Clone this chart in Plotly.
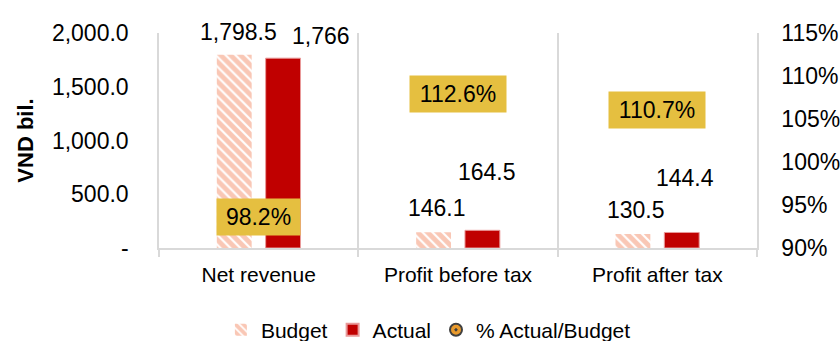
import plotly.graph_objects as go

# Business results: budget vs. actual (VND bil.)
categories = ["Net revenue", "Profit before tax", "Profit after tax"]
budget = [1798.5, 146.1, 130.5]
actual = [1766.0, 164.5, 144.4]
actual_decimals = [0, 1, 1]
pct_actual_budget = [0.982, 1.126, 1.107]

left_tickvals = [0, 500, 1000, 1500, 2000]
left_ticktext = ["-", "500.0", "1,000.0", "1,500.0", "2,000.0"]

FONT = "Liberation Sans, Arial, sans-serif"
RED = "#C00000"
SALMON = "#F4906C"
GOLD = "#E5BF40"
ORANGE = "#E99A2C"
GRID = "#D9D9D9"

# pixel offsets of the value labels (dx, dy) from the top centre of each bar
budget_label_offsets = [(4, 23), (3, 24), (3, 24)]
actual_label_offsets = [(38, 22), (4, 58), (3, 54)]
BAR_SHIFT = 24.5  # half the distance between the two bars of a group

# Arial advance widths (em) for the percentage boxes
CHAR_W = {".": 0.278, "%": 0.889, ",": 0.278}


def text_width(s, size):
    return sum(CHAR_W.get(c, 0.556) for c in s) * size


fig = go.Figure()

fig.add_trace(go.Bar(
    name="Budget", x=categories, y=budget,
    marker=dict(color="white", line=dict(width=0),
                pattern=dict(shape="\\", fgcolor=SALMON, bgcolor="white",
                             size=7, solidity=0.7)),
))
fig.add_trace(go.Bar(
    name="Actual", x=categories, y=actual,
    marker=dict(color=RED, line=dict(color="#E99A9A", width=1)),
))
fig.add_trace(go.Scatter(
    name="% Actual/Budget", x=categories, y=pct_actual_budget, yaxis="y2",
    mode="markers",
    marker=dict(color=ORANGE, size=14, symbol="circle-dot",
                line=dict(color="#404040", width=1)),
    selectedpoints=[], unselected=dict(marker=dict(opacity=0)),
))

annotations = []
for cat, v, (dx, dy) in zip(categories, budget, budget_label_offsets):
    annotations.append(dict(
        x=cat, y=v, xref="x", yref="y", text=f"{v:,.1f}", showarrow=False,
        xanchor="center", yanchor="middle", xshift=-BAR_SHIFT + dx, yshift=dy,
        font=dict(family=FONT, size=23, color="#000000"),
    ))
for cat, v, dec, (dx, dy) in zip(categories, actual, actual_decimals, actual_label_offsets):
    annotations.append(dict(
        x=cat, y=v, xref="x", yref="y", text=f"{v:,.{dec}f}", showarrow=False,
        xanchor="center", yanchor="middle", xshift=BAR_SHIFT + dx, yshift=dy,
        font=dict(family=FONT, size=23, color="#000000"),
    ))
for cat, p in zip(categories, pct_actual_budget):
    label = f"{p * 100:.1f}%"
    annotations.append(dict(
        x=cat, y=p, xref="x", yref="y2", text=label, showarrow=False,
        xanchor="center", yanchor="middle", yshift=-40,
        bgcolor=GOLD, borderpad=5, width=round(text_width(label, 23)) + 8,
        font=dict(family=FONT, size=23, color="#000000"),
    ))

fig.update_layout(
    width=840, height=341,
    margin=dict(l=159, r=83, t=33, b=93, autoexpand=False),
    paper_bgcolor="white", plot_bgcolor="white",
    font=dict(family=FONT, color="#000000"),
    barmode="group", bargap=0.51, bargroupgap=0.286,
    showlegend=True,
    legend=dict(orientation="h", xref="container", yref="container",
                x=0.51, xanchor="center", y=0.032, yanchor="middle",
                font=dict(family=FONT, size=21, color="#000000"),
                itemsizing="constant", traceorder="normal"),
    annotations=annotations,
    xaxis=dict(
        type="category", tickson="boundaries", showgrid=True, gridcolor=GRID,
        gridwidth=1.5, ticks="outside", ticklen=7, tickcolor=GRID, tickwidth=1.5,
        showline=True, linecolor=GRID, linewidth=2, zeroline=False,
        ticklabelstandoff=7, automargin=False,
        tickfont=dict(family=FONT, size=21, color="#000000"),
    ),
    yaxis=dict(
        range=[0, 2000], tickvals=left_tickvals, ticktext=left_ticktext,
        showgrid=False, zeroline=False, showline=True, linecolor=GRID, linewidth=1.5,
        ticks="", ticklabelstandoff=24, automargin=False,
        tickfont=dict(family=FONT, size=23, color="#000000"),
        title=dict(text="VND bil.", standoff=12,
                   font=dict(family=FONT, size=22, color="#000000", weight="bold")),
    ),
    yaxis2=dict(
        overlaying="y", side="right", range=[0.9, 1.15], dtick=0.05,
        tickformat=".0%", showgrid=False, zeroline=False,
        showline=True, linecolor=GRID, linewidth=1.5, ticks="", ticklabelstandoff=18,
        automargin=False,
        tickfont=dict(family=FONT, size=23, color="#000000"),
    ),
)

fig.write_html("out.html")
